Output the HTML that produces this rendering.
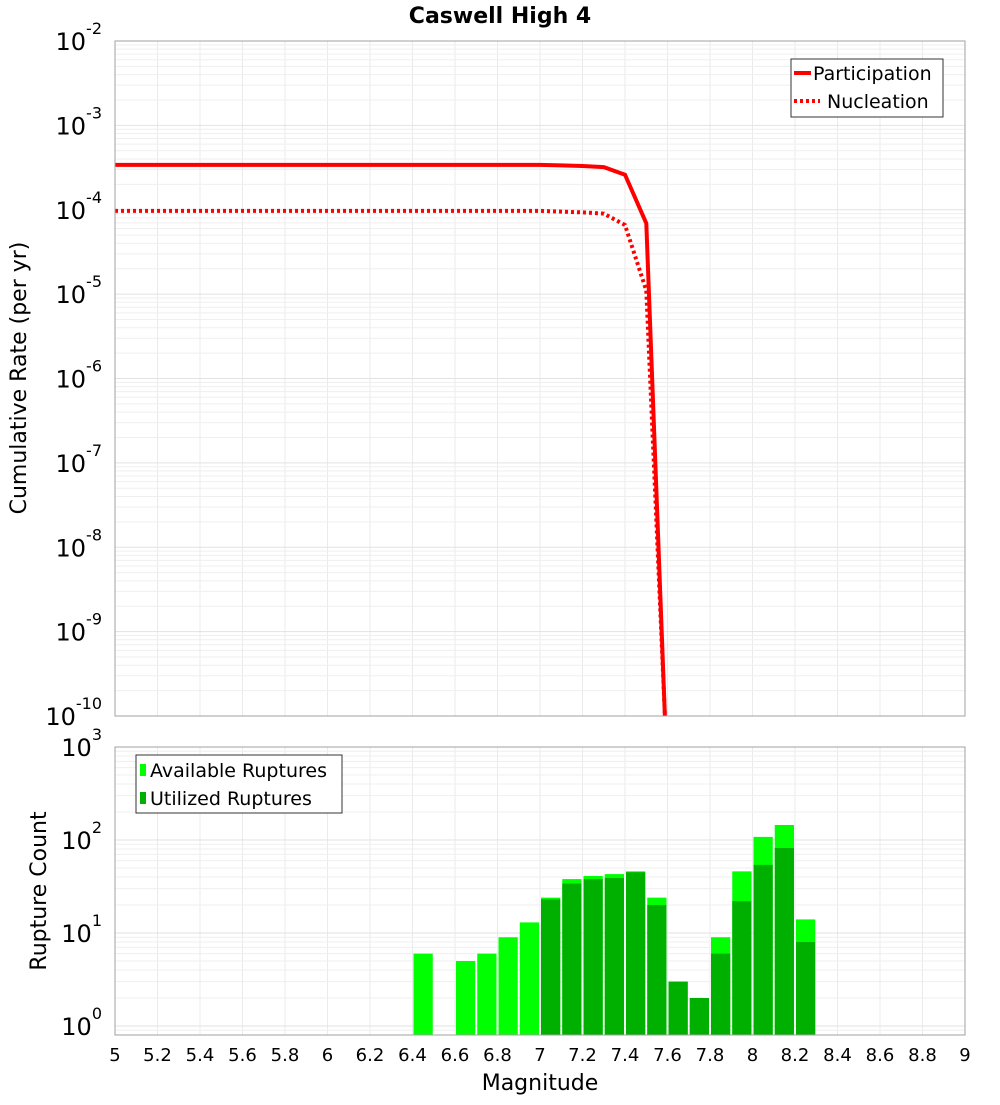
<!DOCTYPE html>
<html><head><meta charset="utf-8"><style>
body{margin:0;background:#fff;font-family:"Liberation Sans","DejaVu Sans",sans-serif}
svg text{font-family:"DejaVu Sans","Liberation Sans",sans-serif}
</style></head><body>
<svg id="c" width="1000" height="1100" xmlns="http://www.w3.org/2000/svg">
<text x="500" y="23" text-anchor="middle" font-size="22" font-weight="bold">Caswell High 4</text>
<g id="top"></g>
<g id="bot"></g>
<text transform="translate(26,378) rotate(-90)" text-anchor="middle" font-size="22">Cumulative Rate (per yr)</text>
<text transform="translate(46,891) rotate(-90)" text-anchor="middle" font-size="22">Rupture Count</text>
<text x="540" y="1090" text-anchor="middle" font-size="22">Magnitude</text>
</svg>
<script>
const mags=[5.0,5.1,5.2,5.3,5.4,5.5,5.6,5.7,5.8,5.9,6.0,6.1,6.2,6.3,6.4,6.5,6.6,6.7,6.8,6.9,7.0,7.1,7.2,7.3,7.4,7.5,7.6];
const participation=[3.4e-4,3.4e-4,3.4e-4,3.4e-4,3.4e-4,3.4e-4,3.4e-4,3.4e-4,3.4e-4,3.4e-4,3.4e-4,3.4e-4,3.4e-4,3.4e-4,3.4e-4,3.4e-4,3.4e-4,3.4e-4,3.4e-4,3.4e-4,3.4e-4,3.35e-4,3.3e-4,3.2e-4,2.6e-4,6.9e-5,1.5e-11];
const nucleation=[9.7e-5,9.7e-5,9.7e-5,9.7e-5,9.7e-5,9.7e-5,9.7e-5,9.7e-5,9.7e-5,9.7e-5,9.7e-5,9.7e-5,9.7e-5,9.7e-5,9.7e-5,9.7e-5,9.7e-5,9.7e-5,9.7e-5,9.7e-5,9.7e-5,9.5e-5,9.3e-5,9.0e-5,6.6e-5,1.1e-5,2e-11];
const binMags=[6.4,6.5,6.6,6.7,6.8,6.9,7.0,7.1,7.2,7.3,7.4,7.5,7.6,7.7,7.8,7.9,8.0,8.1,8.2];
const available=[6,0,5,6,9,13,24,38,41,43,46,24,3,2,9,46,108,145,14];
const utilized=[0,0,0,0,0,0,23,34,38,39,45,20,3,2,6,22,54,82,8];
const xTicks=["5","5.2","5.4","5.6","5.8","6","6.2","6.4","6.6","6.8","7","7.2","7.4","7.6","7.8","8","8.2","8.4","8.6","8.8","9"];
const NS="http://www.w3.org/2000/svg";
const X0=115,X1=965;
const xs=m=>X0+(m-5)/4*(X1-X0);
function mk(p,t,a){const e=document.createElementNS(NS,t);for(const k in a)e.setAttribute(k,a[k]);p.appendChild(e);return e;}
function yAxis(top,bot,lmax,lmin){return v=>top+(lmax-Math.log10(v))/(lmax-lmin)*(bot-top);}
function frame(g,top,bot,lmax,lmin,ys,labelLo,labelHi){
  mk(g,'rect',{x:X0,y:top,width:X1-X0,height:bot-top,fill:'#fff'});
  for(let i=0;i<=20;i++){const x=xs(5+i*0.2);const l=mk(g,'line',{x1:x,x2:x,y1:top,y2:bot,stroke:'#ebebeb','stroke-width':1});
  }
  for(let d=Math.floor(lmin);d<Math.ceil(lmax);d++){for(let k=1;k<10;k++){const v=k*Math.pow(10,d);const lv=Math.log10(v);if(lv<lmin-1e-9||lv>lmax+1e-9)continue;const y=ys(v);
   const l=mk(g,'line',{x1:X0,x2:X1,y1:y,y2:y,stroke:k==1?'#e2e2e2':'#efefef','stroke-width':1});
   }}
  for(let d=labelLo;d<=labelHi;d++){const y=ys(Math.pow(10,d));
   const t=mk(g,'text',{x:102,y:y+9,'text-anchor':'end','font-size':24});
   
   t.textContent='10';const s=mk(t,'tspan',{dy:-16,'font-size':16});s.textContent=String(d);}
}
// top plot
const g1=document.getElementById('top');
const T0=41,T1=716;const y1=yAxis(T0,T1,-2,-10);
frame(g1,T0,T1,-2,-10,y1,-10,-2);
mk(g1,'clipPath',{id:'cp1'});mk(document.getElementById('cp1'),'rect',{x:X0,y:T0,width:X1-X0,height:T1-T0});
function line(arr,dash,name){const d=arr.map((v,i)=>(i?'L':'M')+xs(mags[i]).toFixed(1)+','+y1(v).toFixed(1)).join('');
 const p=mk(g1,'path',{d:d,fill:'none',stroke:'#ff0000','stroke-width':4,'clip-path':'url(#cp1)'});if(dash)p.setAttribute('stroke-dasharray','3,3');
 }
line(participation,false,'participation-line');line(nucleation,true,'nucleation-line');
mk(g1,'rect',{x:X0,y:T0,width:X1-X0,height:T1-T0,fill:'none',stroke:'#a0a0a0'});
const lg=mk(g1,'g',{});
mk(lg,'rect',{x:791,y:59,width:152,height:58,fill:'#fff',stroke:'#333'});
mk(lg,'line',{x1:794,x2:811,y1:73,y2:73,stroke:'#f00','stroke-width':4});
mk(lg,'line',{x1:794,x2:820,y1:101,y2:101,stroke:'#f00','stroke-width':4,'stroke-dasharray':'3,3'});
let t=mk(lg,'text',{x:813,y:80,'font-size':19});t.textContent='Participation';
t=mk(lg,'text',{x:827,y:108,'font-size':19});t.textContent='Nucleation';
// bottom plot
const g2=document.getElementById('bot');
const B0=747,B1=1035;const LMIN=3-(B1-B0)/93;const y2=yAxis(B0,B1,3,LMIN);
frame(g2,B0,B1,3,LMIN,y2,0,3);
binMags.forEach((m,i)=>{const x=xs(m)+1,w=xs(m+0.1)-xs(m)-2;
 if(available[i]>0){const r=mk(g2,'rect',{x:x,y:y2(available[i]),width:w,height:B1-y2(available[i]),fill:'#00ff00'});
  }
 if(utilized[i]>0){const r=mk(g2,'rect',{x:x,y:y2(utilized[i]),width:w,height:B1-y2(utilized[i]),fill:'#00b000'});
  }});
mk(g2,'rect',{x:X0,y:B0,width:X1-X0,height:B1-B0,fill:'none',stroke:'#a0a0a0'});
xTicks.forEach((s,i)=>{const tt=mk(g2,'text',{x:xs(5+i*0.2),y:1061,'text-anchor':'middle','font-size':18});
 tt.textContent=s;});
const lg2=mk(g2,'g',{});
mk(lg2,'rect',{x:136,y:755,width:206,height:58,fill:'#fff',stroke:'#333'});
mk(lg2,'rect',{x:140,y:764,width:6,height:12,fill:'#00ff00'});
mk(lg2,'rect',{x:140,y:792,width:6,height:12,fill:'#00b000'});
t=mk(lg2,'text',{x:150,y:777,'font-size':19});t.textContent='Available Ruptures';
t=mk(lg2,'text',{x:150,y:805,'font-size':19});t.textContent='Utilized Ruptures';
</script>
</body></html>
